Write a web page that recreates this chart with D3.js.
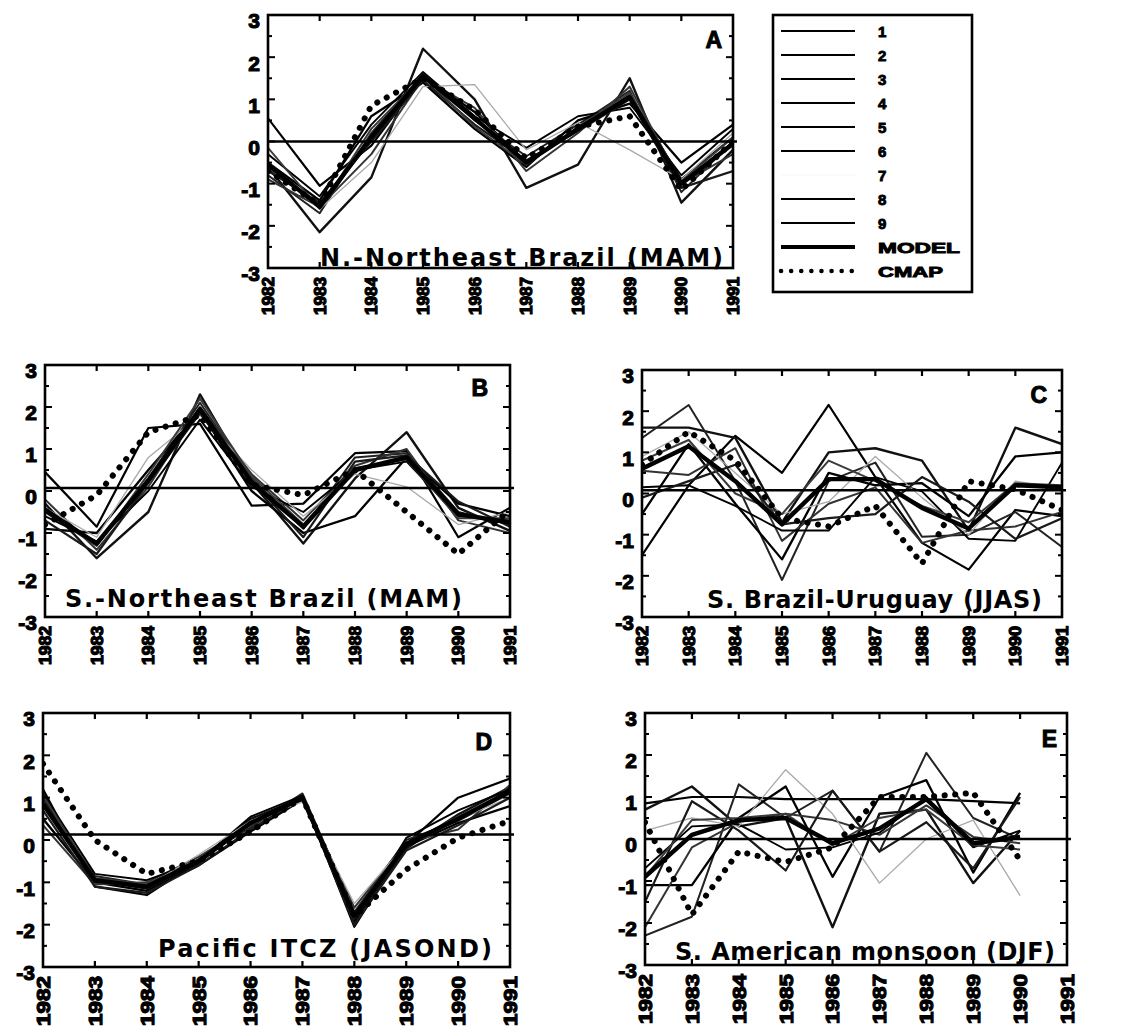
<!DOCTYPE html>
<html><head><meta charset="utf-8">
<script src="https://cdn.jsdelivr.net/npm/d3@7"></script>
<style>body{margin:0;background:#fff}svg{display:block}</style>
</head><body>
<svg id="c" width="1136" height="1032"></svg>
<script>
// ---------- data ----------
const years = [1982,1983,1984,1985,1986,1987,1988,1989,1990,1991];
const yearLabels = ["1982","1983","1984","1985","1986","1987","1988","1989","1990","1991"];
const yTicks = [-3,-2,-1,0,1,2,3];
const legendLabels = ["1","2","3","4","5","6","7","8","9","MODEL","CMAP"];
const titles = ["N.-Northeast Brazil (MAM)","S.-Northeast Brazil (MAM)","S. Brazil-Uruguay (JJAS)","Pacific ITCZ (JASOND)","S. American monsoon (DJF)"];
const letters = ["A","B","C","D","E"];
const zeroLine = [0,0.07,0.08,0.13,0];

// Panel A: N.-Northeast Brazil (MAM)
const membersA = [
  [0.55,-1.05,-0.1,1.55,0.7,-0.5,0.3,1.1,-0.9,0.1],
  [-0.6,-2.15,-0.85,2.2,1.0,-1.1,-0.55,1.5,-1.45,-0.2],
  [-0.8,-1.7,0.2,1.6,0.5,-0.35,0.4,1.2,-1.2,0.0],
  [-0.5,-1.4,0.6,1.4,0.3,-0.6,0.5,0.9,-0.5,0.4],
  [-0.9,-1.55,-0.3,1.5,0.8,-0.7,0.2,1.3,-1.0,-0.3],
  [-0.3,-1.3,0.4,1.65,0.6,-0.15,0.6,0.8,-0.8,0.3],
  [-0.6,-1.6,-0.5,1.3,1.35,-0.2,0.45,-0.2,-0.9,0.2],
  [-0.7,-1.45,0.0,1.45,0.4,-0.45,0.25,1.0,-1.1,-0.7],
  [-0.15,-1.6,0.3,1.55,0.35,-0.55,0.35,1.15,-0.95,0.1]
];
const modelA = [-0.55,-1.55,0.1,1.55,0.55,-0.5,0.3,1.05,-1.0,-0.05];
const cmapA  = [-0.7,-1.5,0.85,1.5,0.75,-0.4,0.35,0.6,-1.15,0.0];

// Panel B: S.-Northeast Brazil (MAM)
const membersB = [
  [0.45,-0.85,1.5,1.6,-0.35,-0.3,0.9,0.95,-1.1,-0.4],
  [-0.3,-1.6,-0.5,2.3,0.2,-1.25,0.3,1.4,-0.4,-0.95],
  [-0.5,-1.3,0.3,2.1,0.3,-0.9,0.8,0.9,-0.5,-0.8],
  [-0.9,-1.0,0.5,1.9,0.0,-1.0,-0.6,0.8,-0.3,-0.6],
  [-0.2,-1.4,0.1,2.0,0.4,-0.7,0.6,1.0,-0.7,-1.0],
  [-0.6,-1.2,0.0,1.7,0.1,-0.5,0.5,0.7,-0.6,-0.7],
  [-0.4,-1.1,0.8,1.8,0.5,-0.6,0.4,0.1,-0.8,-0.5],
  [-0.7,-1.5,0.2,1.85,0.25,-1.1,0.7,0.85,-0.25,-0.85],
  [-0.4,-1.3,0.4,2.2,0.35,-0.8,0.55,0.75,-0.65,-0.65]
];
const modelB = [-0.45,-1.25,0.25,1.95,0.2,-0.85,0.5,0.8,-0.55,-0.75];
const cmapB  = [-0.8,-0.1,1.4,1.8,0.15,-0.1,0.5,-0.5,-1.5,-0.45];

// Panel C: S. Brazil-Uruguay (JJAS)
const membersC = [
  [-1.5,0.2,1.4,0.5,2.15,0.4,-1.2,-1.85,-0.4,-0.55],
  [1.6,1.6,1.35,-0.7,1.0,1.1,0.8,-0.9,1.6,1.2],
  [1.35,2.15,0.3,-2.1,0.3,0.75,-1.05,-1.0,-0.45,-1.3],
  [-0.5,1.2,-0.25,-1.6,0.5,0.2,0.25,-0.55,0.9,1.0],
  [0.55,0.45,1.1,-1.15,-0.25,0.15,-1.2,-0.9,-0.8,-0.45],
  [0.15,0.2,-0.3,-0.9,-0.9,0.4,0.05,-1.1,-1.15,0.75],
  [0.9,1.5,0.5,-0.5,-0.2,0.9,-0.1,-1.0,0.3,0.1],
  [-0.1,0.3,0.7,-0.75,-0.6,-0.5,0.4,-0.2,-1.1,-0.6],
  [0.8,1.3,0.0,-0.5,0.8,0.3,-0.3,-0.7,0.25,0.2]
];
const modelC = [0.6,1.15,0.3,-0.75,0.35,0.35,-0.35,-0.85,0.2,0.15];
const cmapC  = [0.7,1.5,0.8,-0.6,-0.8,-0.3,-1.7,0.3,0.1,-0.4];

// Panel D: Pacific ITCZ (JASOND)
const membersD = [
  [1.2,-1.1,-1.3,-0.5,0.4,1.05,-2.05,-0.1,1.0,1.45],
  [1.0,-0.95,-1.15,-0.55,0.5,1.0,-1.9,-0.2,0.6,1.25],
  [0.9,-0.85,-1.05,-0.45,0.3,1.1,-1.7,0.0,0.45,1.1],
  [0.5,-1.0,-1.2,-0.6,0.2,0.95,-1.8,-0.15,0.4,0.8],
  [0.35,-1.05,-1.0,-0.4,0.35,1.0,-1.6,-0.05,0.25,1.3],
  [1.1,-0.8,-0.95,-0.5,0.55,1.05,-1.95,0.05,0.7,1.2],
  [0.8,-0.9,-1.1,-0.35,0.45,0.9,-1.5,-0.1,0.5,1.0],
  [0.7,-1.1,-1.25,-0.6,0.25,1.0,-2.0,-0.25,0.35,1.0],
  [1.05,-0.9,-1.05,-0.5,0.4,1.0,-1.85,-0.1,0.55,1.15]
];
const modelD = [0.85,-0.95,-1.1,-0.5,0.4,1.0,-1.8,-0.1,0.5,1.15];
const cmapD  = [1.8,0.0,-0.8,-0.5,0.2,1.0,-1.8,-0.7,0.05,0.45];

// Panel E: S. American monsoon (DJF), 1982-1990
const membersE = [
  [0.85,1.0,1.0,0.95,0.95,0.95,0.95,0.9,0.85],
  [0.7,1.25,0.3,0.5,-2.1,0.6,0.7,-1.05,0.2],
  [-2.3,-1.85,1.3,0.5,1.15,-0.3,2.05,0.5,0.0],
  [-1.1,-1.1,0.5,1.25,-0.9,1.0,1.4,-0.8,1.1],
  [-2.1,-0.2,0.4,0.6,0.45,0.1,0.8,0.05,-0.1],
  [-0.7,0.3,0.35,-0.25,-0.2,0.15,1.0,-0.2,0.2],
  [0.2,0.5,0.3,1.65,0.6,-1.05,0.0,0.45,-1.35],
  [-1.5,0.9,0.2,-0.75,1.15,-0.3,0.4,-0.7,1.0],
  [-0.9,0.45,0.5,0.6,-0.15,0.5,0.7,-0.15,-0.25]
];
const modelE = [-0.9,0.1,0.45,0.5,-0.1,0.25,0.95,-0.1,0.05];
const cmapE  = [0.4,-1.8,-0.3,-0.55,-0.2,1.0,1.0,1.1,-0.5];

const panelMembers = [membersA,membersB,membersC,membersD,membersE];
const panelModel = [modelA,modelB,modelC,modelD,modelE];
const panelCmap = [cmapA,cmapB,cmapC,cmapD,cmapE];

// ---------- layout ----------
const layout = [
  {x0:268,x1:733,y0:15, y1:268, tEnd:723, tBase:266, tW:403, lx:722, ly:48,  xl:38, xlFs:17},
  {x0:45, x1:510,y0:365,y1:617, tEnd:462, tBase:607, tW:397, lx:488, ly:396, xl:39, xlFs:17},
  {x0:642,x1:1062,y0:370,y1:617,tEnd:1042,tBase:608, tW:335, lx:1047,ly:403, xl:40, xlFs:17},
  {x0:43, x1:510,y0:713,y1:967, tEnd:492, tBase:957, tW:334, lx:492, ly:750, xl:50, xlFs:19},
  {x0:645,x1:1067,y0:713,y1:965,tEnd:1055,tBase:960, tW:380, lx:1057,ly:747, xl:50, xlFs:19}
];
const memberStyle = [
  {c:"#000",w:2.2},{c:"#111",w:2.4},{c:"#222",w:2.0},{c:"#000",w:2.3},{c:"#333",w:2.0},
  {c:"#000",w:1.9},{c:"#a8a8a8",w:1.3},{c:"#1a1a1a",w:2.2},{c:"#3a3a3a",w:2.0}
];

const svg = d3.select("#c");
const boldFont = "'Liberation Sans', Arial, sans-serif";

layout.forEach((L,p)=>{
  const g = svg.append("g");
  const x = d3.scaleLinear().domain([years[0], years[years.length-1]]).range([L.x0, L.x1]);
  const y = d3.scaleLinear().domain([-3,3]).range([L.y1, L.y0]);
  const clipId = "clip"+p;
  g.append("clipPath").attr("id",clipId).append("rect")
    .attr("x",L.x0).attr("y",L.y0).attr("width",L.x1-L.x0).attr("height",L.y1-L.y0);
  const line = d3.line().x((d,i)=>x(years[i])).y(d=>y(d));
  const plot = g.append("g").attr("clip-path",`url(#${clipId})`);

  panelMembers[p].forEach((s,i)=>{
    plot.append("path").attr("d",line(s)).attr("fill","none")
      .attr("stroke",memberStyle[i].c).attr("stroke-width",memberStyle[i].w)
      .attr("stroke-linejoin","round");
  });
  plot.append("path").attr("d",line(panelModel[p])).attr("fill","none")
    .attr("stroke","#000").attr("stroke-width",4.4).attr("stroke-linejoin","round");
  plot.append("path").attr("d",line(panelCmap[p])).attr("fill","none")
    .attr("stroke","#000").attr("stroke-width",6).attr("stroke-linecap","round")
    .attr("stroke-dasharray","0.1 10.5");

  // zero reference line
  g.append("line").attr("x1",L.x0).attr("x2",L.x1+4)
    .attr("y1",y(zeroLine[p])).attr("y2",y(zeroLine[p]))
    .attr("stroke","#000").attr("stroke-width",2.6);

  // frame
  g.append("rect").attr("x",L.x0).attr("y",L.y0).attr("width",L.x1-L.x0).attr("height",L.y1-L.y0)
    .attr("fill","none").attr("stroke","#000").attr("stroke-width",2.6);

  // inner ticks
  const halfTicks = d3.range(-2.5,3,0.5);
  halfTicks.forEach(v=>{
    const len = Number.isInteger(v) ? 7 : 4;
    g.append("line").attr("x1",L.x0).attr("x2",L.x0+len).attr("y1",y(v)).attr("y2",y(v))
      .attr("stroke","#000").attr("stroke-width",2);
    g.append("line").attr("x1",L.x1).attr("x2",L.x1-len).attr("y1",y(v)).attr("y2",y(v))
      .attr("stroke","#000").attr("stroke-width",2);
  });
  years.slice(1,-1).forEach(yr=>{
    g.append("line").attr("x1",x(yr)).attr("x2",x(yr)).attr("y1",L.y0).attr("y2",L.y0+6)
      .attr("stroke","#000").attr("stroke-width",2.2);
    g.append("line").attr("x1",x(yr)).attr("x2",x(yr)).attr("y1",L.y1).attr("y2",L.y1-6)
      .attr("stroke","#000").attr("stroke-width",2.2);
  });

  // y tick labels
  yTicks.forEach(v=>{
    g.append("text").attr("x",L.x0-8).attr("y",y(v)+6).attr("dy","0.35em")
      .attr("text-anchor","end").attr("font-family",boldFont).attr("font-weight","bold")
      .attr("font-size",21).attr("stroke","#000").attr("stroke-width",1.1)
      .text(v<0 ? "-"+Math.abs(v) : String(v));
  });
  // x tick labels (rotated)
  years.forEach((yr,i)=>{
    const tx = x(yr), ty = L.y1 + 9;
    g.append("text").attr("transform",`translate(${tx},${ty}) rotate(-90)`)
      .attr("text-anchor","end").attr("dy","0.36em")
      .attr("font-family",boldFont).attr("font-weight","bold").attr("font-size",L.xlFs)
      .attr("stroke","#000").attr("stroke-width",1.2)
      .attr("textLength",L.xl).attr("lengthAdjust","spacingAndGlyphs")
      .text(yearLabels[i]);
  });

  // title
  g.append("text").attr("x",L.tEnd).attr("y",L.tBase).attr("text-anchor","end")
    .attr("font-family","'DejaVu Sans', Verdana, sans-serif").attr("font-weight","bold")
    .attr("font-size",24).attr("textLength",L.tW).attr("lengthAdjust","spacing")
    .text(titles[p]);
  // panel letter
  g.append("text").attr("x",L.lx).attr("y",L.ly).attr("text-anchor","end")
    .attr("font-family",boldFont).attr("font-weight","bold").attr("font-size",23)
    .attr("stroke","#000").attr("stroke-width",1)
    .text(letters[p]);
});

// ---------- legend ----------
const lg = svg.append("g");
lg.append("rect").attr("x",773).attr("y",15).attr("width",199).attr("height",277)
  .attr("fill","#fff").attr("stroke","#000").attr("stroke-width",2.6);
legendLabels.forEach((lab,i)=>{
  const yy = 31 + i*24;
  const sample = lg.append("line").attr("x1",781).attr("x2",855).attr("y1",yy).attr("y2",yy);
  if (i < 9) {
    sample.attr("stroke", i===6 ? "#fbfbfb" : "#000").attr("stroke-width", 2);
  } else if (lab === "MODEL") {
    sample.attr("stroke","#000").attr("stroke-width",3.8);
  } else {
    sample.attr("stroke","#000").attr("stroke-width",4.5).attr("stroke-linecap","round")
      .attr("stroke-dasharray","0.1 10");
  }
  const t = lg.append("text").attr("x",878).attr("y",yy+1).attr("dy","0.35em")
    .attr("font-family",boldFont).attr("font-weight","bold").attr("font-size",15)
    .attr("stroke","#000").attr("stroke-width",0.9).text(lab);
  if (lab === "MODEL") t.attr("textLength",82).attr("lengthAdjust","spacingAndGlyphs");
  if (lab === "CMAP") t.attr("textLength",65).attr("lengthAdjust","spacingAndGlyphs");
});
</script>
</body></html>
